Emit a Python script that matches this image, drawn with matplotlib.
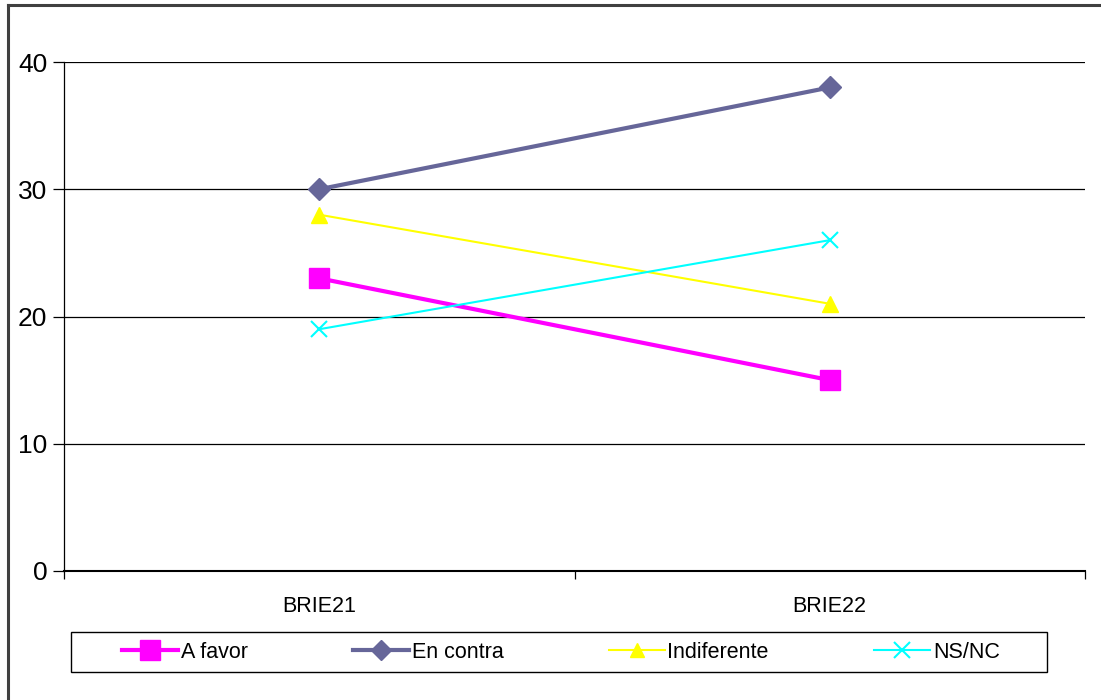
import matplotlib
matplotlib.use('Agg')
from matplotlib import pyplot as plt
from matplotlib.lines import Line2D
from matplotlib.patches import Rectangle

# data
categories = ['BRIE21', 'BRIE22']
a_favor = [23, 15]
en_contra = [30, 38]
indiferente = [28, 21]
ns_nc = [19, 26]
series_names = ['A favor', 'En contra', 'Indiferente', 'NS/NC']

plt.rcParams['font.family'] = ['Liberation Sans', 'DejaVu Sans']

W, H = 1101, 700
fig = plt.figure(figsize=(W / 100, H / 100), dpi=100)
ax = fig.add_axes([64 / W, 1 - 571 / H, 1021 / W, 509 / H])

# outer frame of the chart area (only left and top are visible)
fig.add_artist(Line2D([8 / W, 8 / W], [0, 1 - 5 / H], color='#404040', lw=2.2))
fig.add_artist(Line2D([8 / W, 1], [1 - 5 / H, 1 - 5 / H], color='#404040', lw=2.2))

xpos = [0.5, 1.5]
ax.plot(xpos, a_favor, color='#FF00FF', lw=3, marker='s', ms=15,
        label=series_names[0], zorder=5)
ax.plot(xpos, en_contra, color='#666699', lw=3, marker='D', ms=11,
        label=series_names[1], zorder=5)
ax.plot(xpos, indiferente, color='#FFFF00', lw=1.5, marker='^', ms=11,
        label=series_names[2], zorder=5)
ax.plot(xpos, ns_nc, color='#00FFFF', lw=1.5, marker='x', ms=12, mew=1.5,
        label=series_names[3], zorder=5)

ax.set_xlim(0, 2)
ax.set_ylim(0, 40)
ax.set_yticks([0, 10, 20, 30, 40])
for y in [10, 20, 30, 40]:
    ax.axhline(y, color='black', lw=0.9, zorder=1)

ax.set_xticks([0, 1, 2])
ax.set_xticklabels([])
ax.set_xticks(xpos, minor=True)
ax.set_xticklabels(categories, minor=True, fontsize=15.5)
ax.tick_params(axis='x', which='minor', length=0, pad=18)
ax.tick_params(axis='x', which='major', length=6, width=0.9, direction='out')
ax.tick_params(axis='y', length=8, width=0.9, labelsize=19, pad=4)

for s in ['top', 'right']:
    ax.spines[s].set_visible(False)
ax.spines['left'].set_linewidth(0.9)
ax.spines['bottom'].set_linewidth(1.5)

# legend box drawn by hand, entries placed inside it
fig.add_artist(Rectangle((71 / W, 1 - 672 / H), 976 / W, 40 / H, transform=fig.transFigure,
                         fill=False, edgecolor='black', lw=1.0))
leg = fig.legend(loc='center left', bbox_to_anchor=(122 / W, 1 - 652 / H),
                 ncol=4, frameon=False, fontsize=15.5, borderpad=0, borderaxespad=0,
                 handlelength=2.6, handletextpad=0.12, columnspacing=4.9, markerscale=0.95)

fig.savefig('out.png', dpi=100)
